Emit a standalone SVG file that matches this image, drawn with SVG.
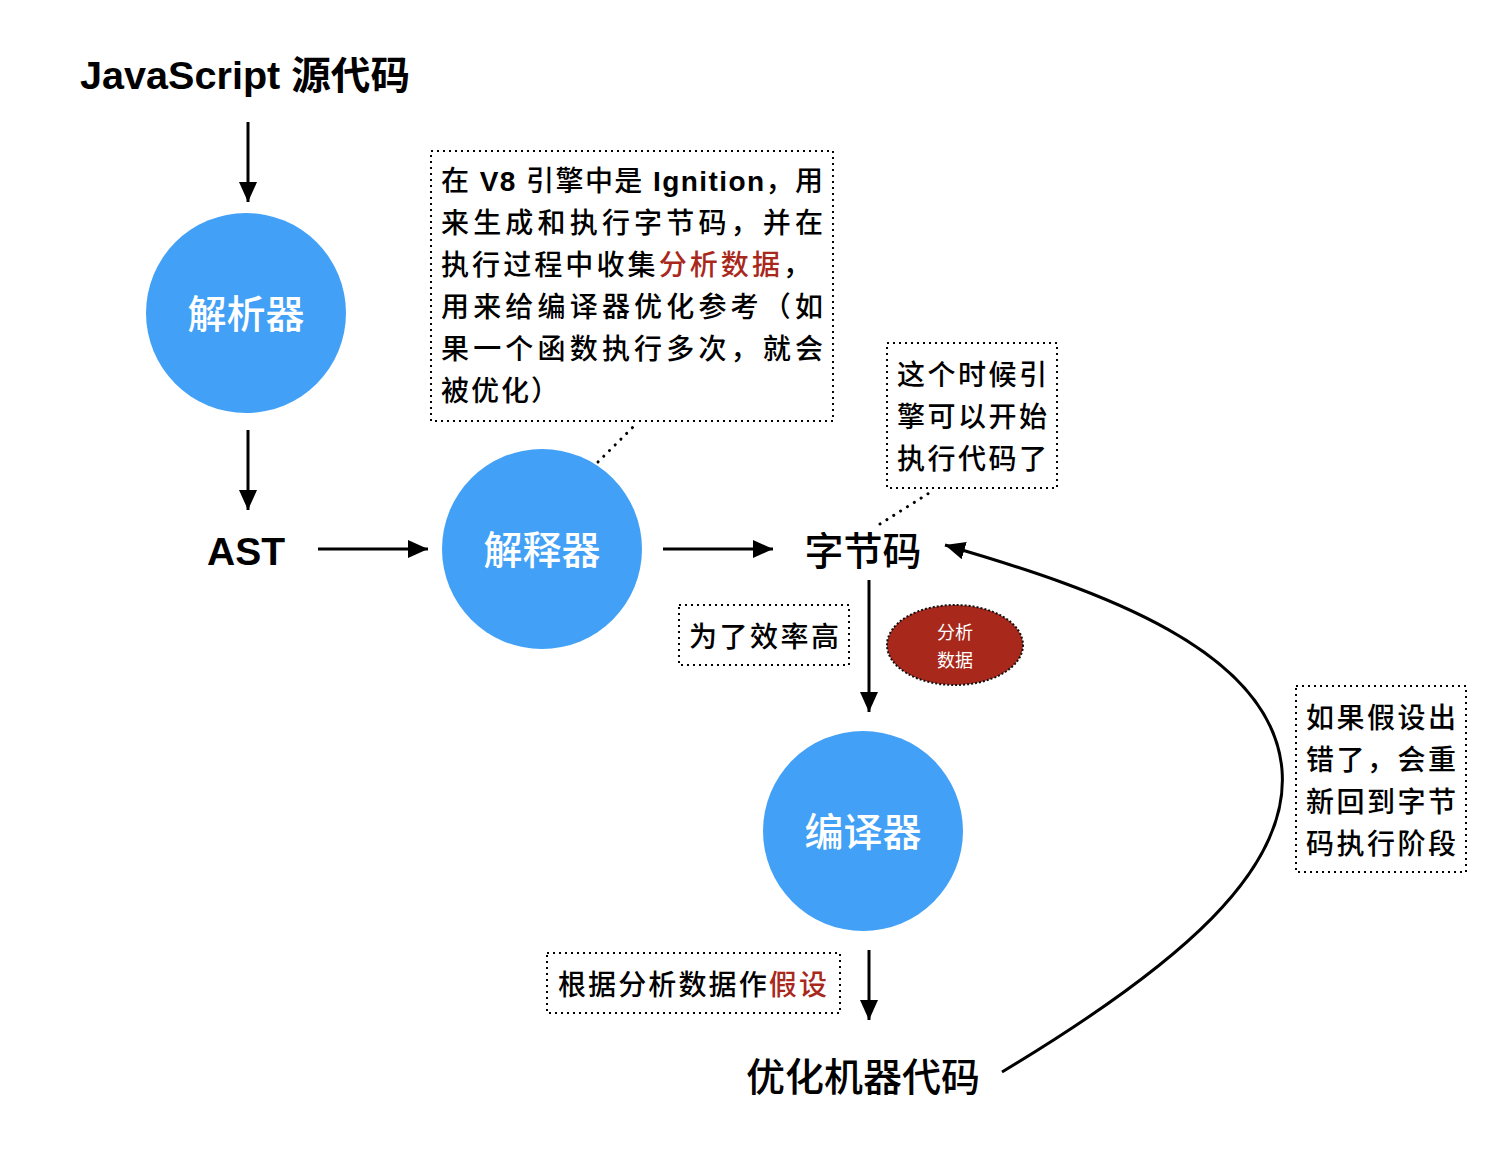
<svg xmlns="http://www.w3.org/2000/svg" width="1508" height="1162" viewBox="0 0 1508 1162">
<style>
.t{font-family:"Liberation Sans","Noto Sans CJK SC",sans-serif;fill:#000}
.big{font-size:39px;font-weight:bold}
.cj{font-family:"Noto Sans CJK SC",sans-serif;font-weight:500;font-size:39px;fill:#000}
.c{font-size:39px;font-weight:500;fill:#fff;font-family:"Noto Sans CJK SC",sans-serif}
.n{font-size:28px;font-weight:500;font-family:"Liberation Sans","Noto Sans CJK SC",sans-serif;fill:#000}
.red{fill:#A8291C}
.box{fill:none;stroke:#000;stroke-width:2;stroke-dasharray:2 4}
.circ{fill:#42A1F6}
.ln{stroke:#000;stroke-width:3;fill:none}
.dot{stroke:#000;stroke-width:3;stroke-dasharray:0.1 8;stroke-linecap:round;fill:none}
</style>
<defs>
<marker id="ah" viewBox="0 0 20 18" refX="20" refY="9" markerWidth="20" markerHeight="18" markerUnits="userSpaceOnUse" orient="auto">
<path d="M0,0 L20,9 L0,18 Z" fill="#000"/>
</marker>
</defs>
<rect width="1508" height="1162" fill="#fff"/>

<g id="connectors">
<line class="ln" x1="248" y1="122" x2="248" y2="202" marker-end="url(#ah)"/>
<line class="ln" x1="248" y1="430" x2="248" y2="510" marker-end="url(#ah)"/>
<line class="ln" x1="318" y1="549" x2="428" y2="549" marker-end="url(#ah)"/>
<line class="ln" x1="663" y1="549" x2="773" y2="549" marker-end="url(#ah)"/>
<line class="ln" x1="869" y1="580" x2="869" y2="712" marker-end="url(#ah)"/>
<line class="ln" x1="869" y1="950" x2="869" y2="1020" marker-end="url(#ah)"/>
<path class="ln" d="M1002,1072 C1180,965 1290,870 1282,770 C1272,650 1100,590 945,545" marker-end="url(#ah)"/>
<line class="dot" x1="598" y1="462" x2="636" y2="424"/>
<line class="dot" x1="880" y1="524" x2="934" y2="490"/>
</g>

<g id="js-source"><text class="t big" x="80" y="89" textLength="330" lengthAdjust="spacingAndGlyphs">JavaScript 源代码</text></g>

<g id="parser">
<circle class="circ" cx="246" cy="313" r="100"/>
<text class="c" x="246" y="328" text-anchor="middle">解析器</text>
</g>

<g id="ast"><text class="t big" x="246" y="565" text-anchor="middle">AST</text></g>

<g id="interpreter">
<circle class="circ" cx="542" cy="549" r="100"/>
<text class="c" x="542" y="564" text-anchor="middle">解释器</text>
</g>

<g id="bytecode"><text class="cj" x="863" y="565" text-anchor="middle">字节码</text></g>

<g id="compiler">
<circle class="circ" cx="863" cy="831" r="100"/>
<text class="c" x="863" y="846" text-anchor="middle">编译器</text>
</g>

<g id="machine-code"><text class="cj" x="863" y="1091" text-anchor="middle">优化机器代码</text></g>

<g id="note-ignition">
<rect class="box" x="431" y="151" width="402" height="270"/>
<text class="n" x="441" y="191" textLength="382" lengthAdjust="spacing">在 <tspan font-weight="bold">V8</tspan> 引擎中是 <tspan font-weight="bold">Ignition</tspan>，用</text>
<text class="n" x="441" y="233" textLength="382" lengthAdjust="spacing">来生成和执行字节码，并在</text>
<text class="n" x="441" y="275" textLength="370" lengthAdjust="spacing">执行过程中收集<tspan class="red">分析数据</tspan>，</text>
<text class="n" x="441" y="317" textLength="382" lengthAdjust="spacing">用来给编译器优化参考（如</text>
<text class="n" x="441" y="359" textLength="382" lengthAdjust="spacing">果一个函数执行多次，就会</text>
<text class="n" x="441" y="401" letter-spacing="2">被优化）</text>
</g>

<g id="note-start">
<rect class="box" x="887" y="343" width="170" height="145"/>
<text class="n" x="897" y="385" textLength="150" lengthAdjust="spacing">这个时候引</text>
<text class="n" x="897" y="427" textLength="150" lengthAdjust="spacing">擎可以开始</text>
<text class="n" x="897" y="469" textLength="150" lengthAdjust="spacing">执行代码了</text>
</g>

<g id="note-efficiency">
<rect class="box" x="679" y="605" width="170" height="60"/>
<text class="n" x="689" y="647" textLength="150" lengthAdjust="spacing">为了效率高</text>
</g>

<g id="profile-data">
<ellipse cx="955" cy="645" rx="68" ry="40" fill="#A8291C" stroke="#111" stroke-width="2" stroke-dasharray="2 2"/>
<text x="955" y="639" text-anchor="middle" style="font-family:'Noto Sans CJK SC',sans-serif;font-size:18px;fill:#fff">分析</text>
<text x="955" y="667" text-anchor="middle" style="font-family:'Noto Sans CJK SC',sans-serif;font-size:18px;fill:#fff">数据</text>
</g>

<g id="note-assume">
<rect class="box" x="547" y="953" width="293" height="60"/>
<text class="n" x="558" y="995" textLength="269" lengthAdjust="spacing">根据分析数据作<tspan class="red">假设</tspan></text>
</g>

<g id="note-deopt">
<rect class="box" x="1296" y="686" width="170" height="186"/>
<text class="n" x="1306" y="728" textLength="150" lengthAdjust="spacing">如果假设出</text>
<text class="n" x="1306" y="770" textLength="150" lengthAdjust="spacing">错了，会重</text>
<text class="n" x="1306" y="812" textLength="150" lengthAdjust="spacing">新回到字节</text>
<text class="n" x="1306" y="854" textLength="150" lengthAdjust="spacing">码执行阶段</text>
</g>
</svg>
